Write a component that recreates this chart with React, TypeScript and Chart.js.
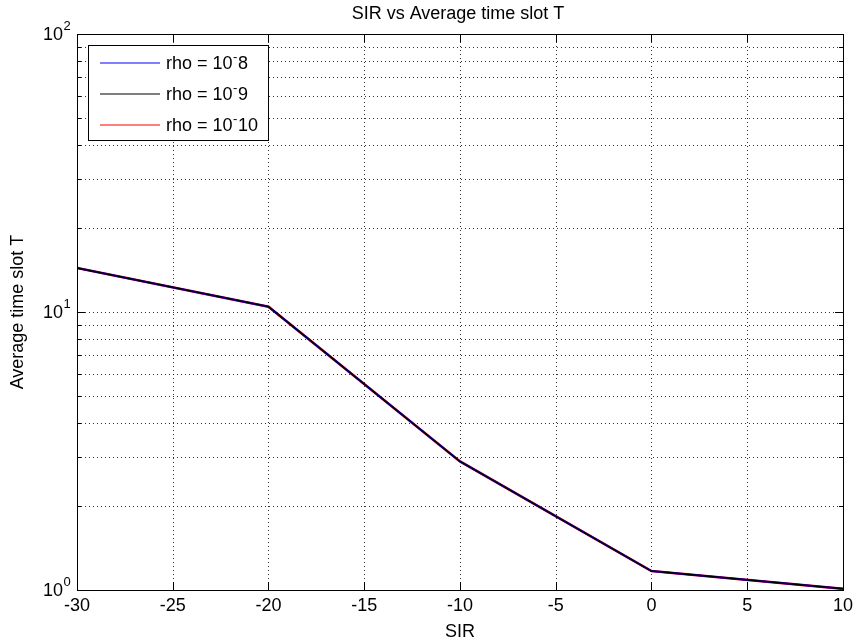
import React, { useEffect, useRef } from "react";
import { Chart, registerables } from "chart.js";

Chart.register(...registerables);

// ---- data ----
const sirValues = [-30, -20, -10, 0, 10];
const rho8 = [14.4, 10.45, 2.9, 1.17, 1.01];
const rho9 = [14.4, 10.45, 2.9, 1.17, 1.01];
const rho10 = [14.4, 10.45, 2.9, 1.17, 1.01];
const seriesLabels = ["rho = 10^-8", "rho = 10^-9", "rho = 10^-10"];
const seriesColors = ["#0000ff", "#000000", "#ff0000"];
const xTickValues = [-30, -25, -20, -15, -10, -5, 0, 5, 10];
const yMajorTicks = [1, 10, 100];
const yMajorExp = ["0", "1", "2"];
const yMinorTicks = [2, 3, 4, 5, 6, 7, 8, 9, 20, 30, 40, 50, 60, 70, 80, 90];
const chartTitle = "SIR vs Average time slot T";
const xTitle = "SIR";
const yTitle = "Average time slot T";

const FONT = "Liberation Sans, Arial, Helvetica, sans-serif";
const FS = 18;

const matlabPlugin = {
  id: "matlabLook",
  beforeDatasetsDraw(chart: any) {
    const { ctx, chartArea: a, scales } = chart;
    const xs = scales.x;
    const ys = scales.y;
    ctx.save();
    ctx.strokeStyle = "rgba(0,0,0,0.8)";
    ctx.lineWidth = 1;
    ctx.setLineDash([1, 3]);
    xTickValues.forEach((v) => {
      const px = Math.round(xs.getPixelForValue(v)) + 0.5;
      if (px <= a.left + 1 || px >= a.right - 1) return;
      ctx.beginPath();
      ctx.moveTo(px, a.top);
      ctx.lineTo(px, a.bottom);
      ctx.stroke();
    });
    [...yMajorTicks, ...yMinorTicks].forEach((v) => {
      const py = Math.round(ys.getPixelForValue(v)) + 0.5;
      if (py <= a.top + 1 || py >= a.bottom - 1) return;
      ctx.beginPath();
      ctx.moveTo(a.left, py);
      ctx.lineTo(a.right, py);
      ctx.stroke();
    });
    ctx.restore();
  },
  afterDatasetsDraw(chart: any) {
    const { ctx, chartArea: a, scales } = chart;
    const xs = scales.x;
    const ys = scales.y;
    ctx.save();
    ctx.setLineDash([]);
    ctx.strokeStyle = "#000";
    ctx.lineWidth = 1;
    ctx.strokeRect(Math.round(a.left) + 0.5, Math.round(a.top) + 0.5, Math.round(a.right - a.left), Math.round(a.bottom - a.top));
    ctx.beginPath();
    xTickValues.forEach((v) => {
      const px = Math.round(xs.getPixelForValue(v)) + 0.5;
      ctx.moveTo(px, a.bottom);
      ctx.lineTo(px, a.bottom - 8);
      ctx.moveTo(px, a.top);
      ctx.lineTo(px, a.top + 8);
    });
    yMajorTicks.forEach((v) => {
      const py = Math.round(ys.getPixelForValue(v)) + 0.5;
      ctx.moveTo(a.left, py);
      ctx.lineTo(a.left + 8, py);
      ctx.moveTo(a.right, py);
      ctx.lineTo(a.right - 8, py);
    });
    yMinorTicks.forEach((v) => {
      const py = Math.round(ys.getPixelForValue(v)) + 0.5;
      ctx.moveTo(a.left, py);
      ctx.lineTo(a.left + 4, py);
      ctx.moveTo(a.right, py);
      ctx.lineTo(a.right - 4, py);
    });
    ctx.stroke();

    // y tick labels 10^n
    ctx.fillStyle = "#000";
    yMajorTicks.forEach((v, i) => {
      const py = ys.getPixelForValue(v);
      ctx.font = `${FS}px ${FONT}`;
      ctx.textAlign = "right";
      ctx.textBaseline = "middle";
      ctx.fillText("10", 63, py + 1);
      ctx.font = `13px ${FONT}`;
      ctx.textAlign = "left";
      ctx.fillText(yMajorExp[i], 63.5, py - 8);
    });

    // legend
    const lx = 88, ly = 45, lw = 180, lh = 95;
    ctx.fillStyle = "#fff";
    ctx.fillRect(lx, ly, lw, lh);
    ctx.strokeStyle = "#000";
    ctx.lineWidth = 1;
    ctx.strokeRect(lx + 0.5, ly + 0.5, lw, lh);
    chart.data.datasets.forEach((ds: any, i: number) => {
      const yy = 63 + i * 31;
      ctx.strokeStyle = ds.borderColor;
      ctx.lineWidth = 1.2;
      ctx.beginPath();
      ctx.moveTo(100, yy);
      ctx.lineTo(160, yy);
      ctx.stroke();
      const [base, sup] = String(ds.label).split("^");
      ctx.fillStyle = "#000";
      ctx.textAlign = "left";
      ctx.textBaseline = "middle";
      ctx.font = `${FS}px ${FONT}`;
      ctx.fillText(base, 166, yy + 1);
      let x = 166 + ctx.measureText(base).width;
      const supChar = sup.charAt(0);
      const rest = sup.slice(1);
      ctx.font = `13px ${FONT}`;
      ctx.fillText(supChar, x + 0.5, yy - 6);
      x += ctx.measureText(supChar).width + 1;
      ctx.font = `${FS}px ${FONT}`;
      ctx.fillText(rest, x, yy + 1);
    });

    // titles
    ctx.fillStyle = "#000";
    ctx.font = `${FS}px ${FONT}`;
    ctx.textAlign = "center";
    ctx.textBaseline = "middle";
    const cx = (a.left + a.right) / 2;
    ctx.fillText(chartTitle, cx - 2, 14);
    ctx.fillText(xTitle, cx, 632);
    ctx.save();
    ctx.translate(18, (a.top + a.bottom) / 2);
    ctx.rotate(-Math.PI / 2);
    ctx.fillText(yTitle, 0, 0);
    ctx.restore();
    ctx.restore();
  },
};

export default function App() {
  const canvasRef = useRef<HTMLCanvasElement | null>(null);

  useEffect(() => {
    const canvas = canvasRef.current;
    if (!canvas) return;
    const series = [rho8, rho9, rho10];
    // MATLAB-like overlap: red fringe under a dark core
    const widths = [2, 1.4, 2.6];
    const orders = [1, 0, 2];
    const chart = new Chart(canvas, {
      type: "line",
      data: {
        datasets: series.map((vals, i) => ({
          label: seriesLabels[i],
          data: sirValues.map((x, j) => ({ x, y: vals[j] })),
          borderColor: seriesColors[i],
          backgroundColor: seriesColors[i],
          borderWidth: widths[i],
          pointRadius: 0,
          tension: 0,
          fill: false,
          order: orders[i],
        })),
      },
      options: {
        responsive: false,
        animation: false,
        events: [],
        layout: { padding: { left: 0, right: 13, top: 34, bottom: 0 } },
        plugins: {
          legend: { display: false },
          title: { display: false },
          tooltip: { enabled: false },
        },
        scales: {
          x: {
            type: "linear",
            min: -30,
            max: 10,
            grid: { display: false, drawTicks: false },
            border: { display: false },
            ticks: {
              stepSize: 5,
              autoSkip: false,
              maxRotation: 0,
              padding: 5,
              color: "#000",
              font: { family: FONT, size: FS },
            },
            afterFit(scale: any) {
              scale.height = 51;
            },
          },
          y: {
            type: "logarithmic",
            min: 1,
            max: 100,
            grid: { display: false, drawTicks: false },
            border: { display: false },
            ticks: { display: false },
            afterFit(scale: any) {
              scale.width = 77;
            },
          },
        },
      },
      plugins: [matlabPlugin],
    } as any);
    return () => chart.destroy();
  }, []);

  return (
    <div style={{ position: "fixed", left: 0, top: 0, width: 858, height: 641, background: "#fff" }}>
      <canvas ref={canvasRef} width={858} height={641} style={{ display: "block" }} />
    </div>
  );
}
